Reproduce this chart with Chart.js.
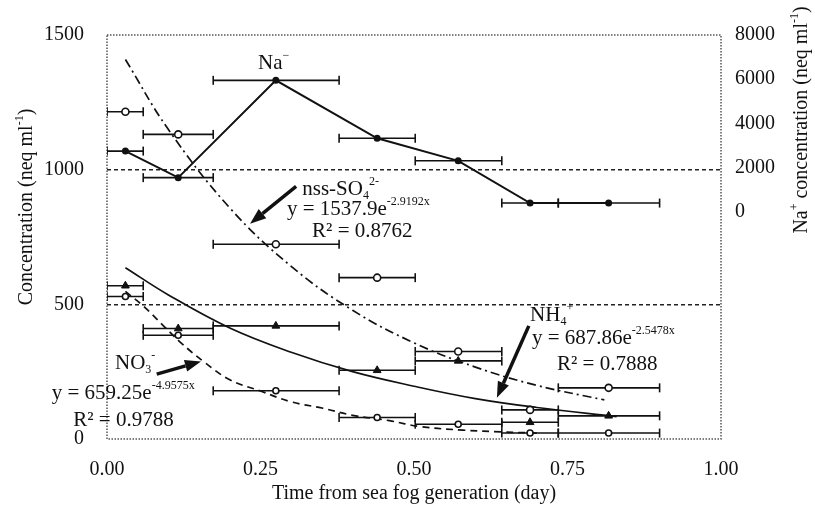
<!DOCTYPE html>
<html>
<head>
<meta charset="utf-8">
<script src="https://cdn.jsdelivr.net/npm/chart.js@4.4.0/dist/chart.umd.min.js"></script>
<style>
  html, body { margin: 0; padding: 0; background: #ffffff; }
  #wrap { width: 815px; height: 512px; }
</style>
</head>
<body>
<div id="wrap"><canvas id="fogChart" width="815" height="512"></canvas></div>
<script>
// sampling intervals (day) and their mid times
const intervalStart = [0, 0.059, 0.173, 0.378, 0.502, 0.643, 0.735];
const intervalEnd = [0.059, 0.173, 0.378, 0.502, 0.643, 0.735, 0.90];
const sampleTime = [0.03, 0.116, 0.275, 0.44, 0.572, 0.689, 0.817];

// measured concentrations (neq ml-1)
const naValues = [2750, 1550, 5950, 3330, 2310, 400, 400];   // right axis
const nssValues = [1215, 1131, 723, 599, 325, 108, 190];
const nh4Values = [569, 410, 420, 255, 290, 62, 86];
const no3Values = [529, 385, 179, 80, 55, 22, 22];

// exponential fit curves
const nssFitTime = [0.03, 0.1, 0.2, 0.3, 0.4, 0.5, 0.6, 0.7, 0.81];
const nssFitValues = [1409, 1149, 858, 641, 478, 357, 267, 199, 145];
const nh4FitTime = [0.03, 0.1, 0.2, 0.3, 0.4, 0.5, 0.6, 0.7, 0.83];
const nh4FitValues = [636, 535, 412, 322, 250, 196, 150, 117, 83];
const no3FitTime = [0.03, 0.06, 0.09, 0.12, 0.16, 0.2, 0.25, 0.3, 0.35, 0.4, 0.46, 0.51, 0.58, 0.645, 0.7];
const no3FitValues = [548, 492, 425, 358, 283, 220, 178, 138, 115, 88, 68, 46, 33, 26, 22];

// tick labels
const timeTicks = [0, 0.25, 0.5, 0.75, 1.0];
const leftTicks = [0, 500, 1000, 1500];
const rightTicks = [0, 2000, 4000, 6000, 8000];

const INK = '#111111';
const SERIF = '"Liberation Serif", "Times New Roman", serif';

function points(times, values) {
    return times.map((t, i) => ({ x: t, y: values[i] }));
}

// horizontal bar for each sampling interval, broken by a gap point
function intervalBars(values) {
    const pts = [];
    values.forEach((v, i) => {
        pts.push({ x: intervalStart[i], y: v }, { x: intervalEnd[i], y: v }, { x: intervalEnd[i], y: null });
    });
    return pts;
}

const barStyle = {
    showLine: true,
    spanGaps: false,
    borderColor: INK,
    borderWidth: 1.6,
    pointStyle: 'line',
    pointRotation: 90,
    pointRadius: 4.5,
    pointBorderWidth: 1.6,
    pointBorderColor: INK
};

// text notes placed in data units (x: day, y: left axis)
const notes = [
    { at: [0.246, 1394], parts: [{ t: 'Na' }, { t: '\u2212', sup: true }] },
    { at: [0.318, 927], parts: [{ t: 'nss-SO' }, { t: '4', sub: true }, { t: '2-', sup: true }] },
    { at: [0.293, 854], parts: [{ t: 'y = 1537.9e' }, { t: '-2.9192x', sup: true }] },
    { at: [0.334, 770], parts: [{ t: 'R\u00b2 = 0.8762' }] },
    { at: [0.689, 460], parts: [{ t: 'NH' }, { t: '4', sub: true }, { t: '+', sup: true }] },
    { at: [0.692, 372], parts: [{ t: 'y = 687.86e' }, { t: '-2.5478x', sup: true }] },
    { at: [0.733, 277], parts: [{ t: 'R\u00b2 = 0.7888' }] },
    { at: [0.013, 281], parts: [{ t: 'NO' }, { t: '3', sub: true }, { t: '-', sup: true }] },
    { at: [-0.09, 168], parts: [{ t: 'y = 659.25e' }, { t: '-4.9575x', sup: true }] },
    { at: [-0.055, 69], parts: [{ t: 'R\u00b2 = 0.9788' }] }
];

const arrows = [
    { from: [0.308, 938], to: [0.233, 799] },
    { from: [0.687, 420], to: [0.635, 153] },
    { from: [0.081, 241], to: [0.153, 288] }
];

function drawRich(ctx, parts, x, y, size) {
    let cx = x;
    parts.forEach(p => {
        const small = p.sup || p.sub;
        const s = small ? Math.round(size * 0.58) : size;
        ctx.font = s + 'px ' + SERIF;
        const dy = p.sup ? -size * 0.36 : p.sub ? size * 0.3 : 0;
        ctx.fillText(p.t, cx, y + dy);
        cx += ctx.measureText(p.t).width;
    });
    return cx - x;
}

function richWidth(ctx, parts, size) {
    let w = 0;
    parts.forEach(p => {
        const s = (p.sup || p.sub) ? Math.round(size * 0.58) : size;
        ctx.font = s + 'px ' + SERIF;
        w += ctx.measureText(p.t).width;
    });
    return w;
}

function drawArrow(ctx, x1, y1, x2, y2) {
    const ang = Math.atan2(y2 - y1, x2 - x1);
    const head = 16, half = 6;
    const bx = x2 - head * Math.cos(ang), by = y2 - head * Math.sin(ang);
    ctx.lineWidth = 3.5;
    ctx.beginPath();
    ctx.moveTo(x1, y1);
    ctx.lineTo(bx, by);
    ctx.stroke();
    ctx.beginPath();
    ctx.moveTo(x2, y2);
    ctx.lineTo(bx + half * Math.sin(ang), by - half * Math.cos(ang));
    ctx.lineTo(bx - half * Math.sin(ang), by + half * Math.cos(ang));
    ctx.closePath();
    ctx.fill();
}

const paperPlugin = {
    id: 'paperPlugin',
    beforeDatasetsDraw(chart) {
        const { ctx, chartArea: a } = chart;
        ctx.save();
        ctx.strokeStyle = '#555555';
        ctx.lineWidth = 1.5;
        ctx.setLineDash([1.5, 1.5]);
        ctx.strokeRect(a.left, a.top, a.right - a.left, a.bottom - a.top);
        ctx.restore();
    },
    afterDraw(chart) {
        const { ctx, scales } = chart;
        const px = t => scales.x.getPixelForValue(t);
        const py = v => scales.y.getPixelForValue(v);
        ctx.save();
        ctx.fillStyle = INK;
        ctx.strokeStyle = INK;
        ctx.textBaseline = 'middle';
        ctx.textAlign = 'left';

        notes.forEach(n => drawRich(ctx, n.parts, px(n.at[0]), py(n.at[1]), 21));
        arrows.forEach(r => drawArrow(ctx, px(r.from[0]), py(r.from[1]), px(r.to[0]), py(r.to[1])));

        // rotated axis titles
        const leftTitle = [{ t: 'Concentration (neq ml' }, { t: '-1', sup: true }, { t: ')' }];
        const rightTitle = [{ t: 'Na' }, { t: '+', sup: true }, { t: ' concentration (neq ml' }, { t: '-1', sup: true }, { t: ')' }];

        ctx.save();
        ctx.translate(27, 207);
        ctx.rotate(-Math.PI / 2);
        drawRich(ctx, leftTitle, -richWidth(ctx, leftTitle, 20) / 2, 0, 20);
        ctx.restore();

        ctx.save();
        ctx.translate(802, 120);
        ctx.rotate(-Math.PI / 2);
        drawRich(ctx, rightTitle, -richWidth(ctx, rightTitle, 20) / 2, 0, 20);
        ctx.restore();

        ctx.restore();
    }
};

const tickFont = { family: SERIF, size: 20 };

new Chart(document.getElementById('fogChart').getContext('2d'), {
    type: 'scatter',
    data: {
        datasets: [
            {
                label: 'Na+',
                data: points(sampleTime, naValues),
                yAxisID: 'y2',
                showLine: true,
                borderColor: INK,
                borderWidth: 2,
                pointStyle: 'circle',
                pointRadius: 2.5,
                pointBackgroundColor: INK,
                pointBorderColor: INK
            },
            {
                label: 'nss-SO4',
                data: points(sampleTime, nssValues),
                pointStyle: 'circle',
                pointRadius: 3.5,
                pointBackgroundColor: '#ffffff',
                pointBorderColor: INK,
                pointBorderWidth: 1.6
            },
            {
                label: 'NH4+',
                data: points(sampleTime, nh4Values),
                pointStyle: 'triangle',
                pointRadius: 4.5,
                pointBackgroundColor: INK,
                pointBorderColor: INK
            },
            {
                label: 'NO3-',
                data: points(sampleTime, no3Values),
                pointStyle: 'circle',
                pointRadius: 3,
                pointBackgroundColor: '#ffffff',
                pointBorderColor: INK,
                pointBorderWidth: 1.6
            },
            Object.assign({ label: 'Na+ range', data: intervalBars(naValues), yAxisID: 'y2' }, barStyle),
            Object.assign({ label: 'nss-SO4 range', data: intervalBars(nssValues) }, barStyle),
            Object.assign({ label: 'NH4+ range', data: intervalBars(nh4Values) }, barStyle),
            Object.assign({ label: 'NO3- range', data: intervalBars(no3Values) }, barStyle),
            {
                label: 'nss-SO4 fit',
                data: points(nssFitTime, nssFitValues),
                showLine: true,
                tension: 0.4,
                borderColor: INK,
                borderWidth: 1.7,
                borderDash: [9, 4, 2, 4],
                pointRadius: 0
            },
            {
                label: 'NH4+ fit',
                data: points(nh4FitTime, nh4FitValues),
                showLine: true,
                tension: 0.4,
                borderColor: INK,
                borderWidth: 1.7,
                pointRadius: 0
            },
            {
                label: 'NO3- fit',
                data: points(no3FitTime, no3FitValues),
                showLine: true,
                tension: 0.4,
                borderColor: INK,
                borderWidth: 1.7,
                borderDash: [7, 5],
                pointRadius: 0
            }
        ]
    },
    options: {
        responsive: false,
        animation: false,
        layout: { autoPadding: false, padding: { top: 28, left: 0, right: 0, bottom: 0 } },
        plugins: {
            legend: { display: false },
            tooltip: { enabled: false }
        },
        scales: {
            x: {
                type: 'linear',
                position: 'bottom',
                min: 0,
                max: 1,
                afterBuildTicks: s => { s.ticks = timeTicks.map(v => ({ value: v })); },
                afterFit: s => { s.height = 73; },
                ticks: {
                    color: INK,
                    font: tickFont,
                    padding: 11,
                    maxRotation: 0,
                    callback: v => Number(v).toFixed(2)
                },
                grid: { display: false },
                border: { display: false },
                title: {
                    display: true,
                    text: 'Time from sea fog generation (day)',
                    color: INK,
                    font: { family: SERIF, size: 20 },
                    padding: { top: 0, bottom: 6 }
                }
            },
            y: {
                type: 'linear',
                position: 'left',
                min: 0,
                max: 1500,
                afterBuildTicks: s => { s.ticks = leftTicks.map(v => ({ value: v })); },
                afterFit: s => { s.width = 107; },
                ticks: {
                    color: INK,
                    font: tickFont,
                    padding: 23,
                    callback: v => String(v)
                },
                grid: {
                    drawTicks: false,
                    lineWidth: 1.5,
                    color: c => (c.tick && (c.tick.value === 500 || c.tick.value === 1000)) ? '#222222' : 'rgba(0,0,0,0)'
                },
                border: { display: false, dash: [4, 3] }
            },
            y2: {
                type: 'linear',
                position: 'right',
                min: -10270,
                max: 8000,
                afterBuildTicks: s => { s.ticks = rightTicks.map(v => ({ value: v })); },
                afterFit: s => { s.width = 94; },
                ticks: {
                    color: INK,
                    font: tickFont,
                    padding: 14,
                    callback: v => String(v)
                },
                grid: { display: false, drawTicks: false },
                border: { display: false }
            }
        }
    },
    plugins: [paperPlugin]
});
</script>
</body>
</html>
